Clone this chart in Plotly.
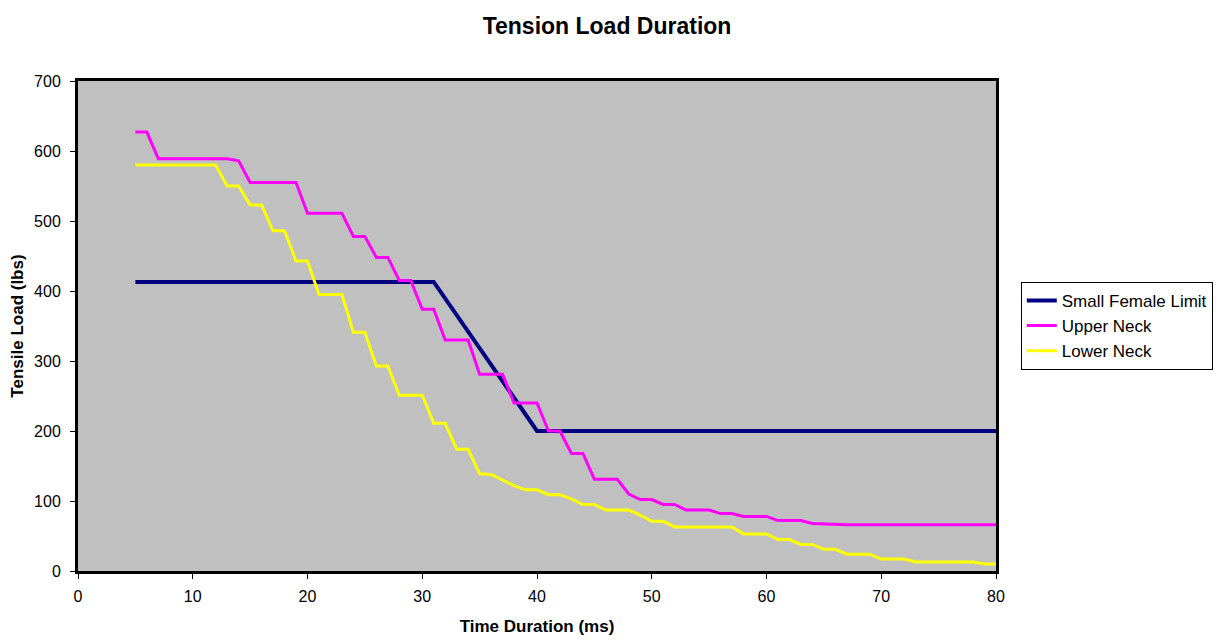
import plotly.graph_objects as go

# time axis (ms) for the neck load curves
time_ms = list(range(5, 81))

upper_neck = [627, 627, 589, 589, 589, 589, 589, 589, 589, 586,
              555, 555, 555, 555, 555, 511, 511, 511, 511, 478,
              478, 448, 448, 415, 415, 374, 374, 330, 330, 330,
              281, 281, 281, 240, 240, 240, 200, 200, 168, 168,
              131, 131, 131, 110, 102, 102, 95, 95, 87, 87,
              87, 82, 82, 78, 78, 78, 72, 72, 72, 68,
              67, 66, 66, 66, 66, 66, 66, 66, 66, 66,
              66, 66, 66, 66, 66, 66]

lower_neck = [580, 580, 580, 580, 580, 580, 580, 580, 550, 550,
              523, 523, 486, 486, 443, 443, 395, 395, 395, 341,
              341, 293, 293, 251, 251, 251, 211, 211, 174, 174,
              139, 138, 130, 122, 116, 116, 109, 109, 103, 95,
              95, 87, 87, 87, 80, 71, 71, 63, 63, 63,
              63, 63, 63, 53, 53, 53, 45, 45, 38, 38,
              31, 31, 24, 24, 24, 17, 17, 17, 13, 13,
              13, 13, 13, 13, 10, 10]

# small female limit corners
limit_ms = [5, 31, 40, 80]
limit_lbs = [413, 413, 200, 200]

x_ticks = [0, 10, 20, 30, 40, 50, 60, 70, 80]
y_ticks = [0, 100, 200, 300, 400, 500, 600, 700]

fig = go.Figure()
fig.add_trace(go.Scatter(x=limit_ms, y=limit_lbs, mode='lines', name='Small Female Limit',
                         line=dict(color='#000080', width=4)))
fig.add_trace(go.Scatter(x=time_ms, y=upper_neck, mode='lines', name='Upper Neck',
                         line=dict(color='#FF00FF', width=3)))
fig.add_trace(go.Scatter(x=time_ms, y=lower_neck, mode='lines', name='Lower Neck',
                         line=dict(color='#FFFF00', width=3)))

fam = 'Liberation Sans, Arial, sans-serif'
tick_font = dict(family=fam, size=16, color='black')
title_font = dict(family=fam, size=17, color='black')

# page body adds ~8px offset, so margins are shifted a bit
fig.update_layout(
    width=1225, height=642,
    margin=dict(l=70, r=237, t=73, b=79),
    paper_bgcolor='white',
    plot_bgcolor='#C0C0C0',
    font=tick_font,
    title=dict(text='<b>Tension Load Duration</b>', x=0.489, xref='container', xanchor='center',
               y=0.984, yref='container', yanchor='top',
               font=dict(family=fam, size=23, color='black')),
    showlegend=True,
    legend=dict(x=1.027, y=0.59, xanchor='left', yanchor='top',
                bordercolor='black', borderwidth=1, bgcolor='white',
                font=dict(family=fam, size=17, color='black'),
                itemwidth=30),
)

fig.update_xaxes(range=[0, 80], tickvals=x_ticks, showgrid=False, zeroline=False,
                 showline=True, linecolor='black', linewidth=3, mirror=True,
                 ticks='outside', ticklen=5, tickcolor='black', tickfont=tick_font,
                 ticklabelstandoff=4, automargin=False,
                 title=dict(text='<b>Time Duration (ms)</b>', standoff=16, font=title_font))
fig.update_yaxes(range=[0, 700], tickvals=y_ticks, showgrid=False, zeroline=False,
                 showline=True, linecolor='black', linewidth=3, mirror=True,
                 ticks='outside', ticklen=5, tickcolor='black', tickfont=tick_font,
                 ticklabelstandoff=6, automargin=False,
                 title=dict(text='<b>Tensile Load (lbs)</b>', standoff=10, font=title_font))

fig.write_html("out.html")
